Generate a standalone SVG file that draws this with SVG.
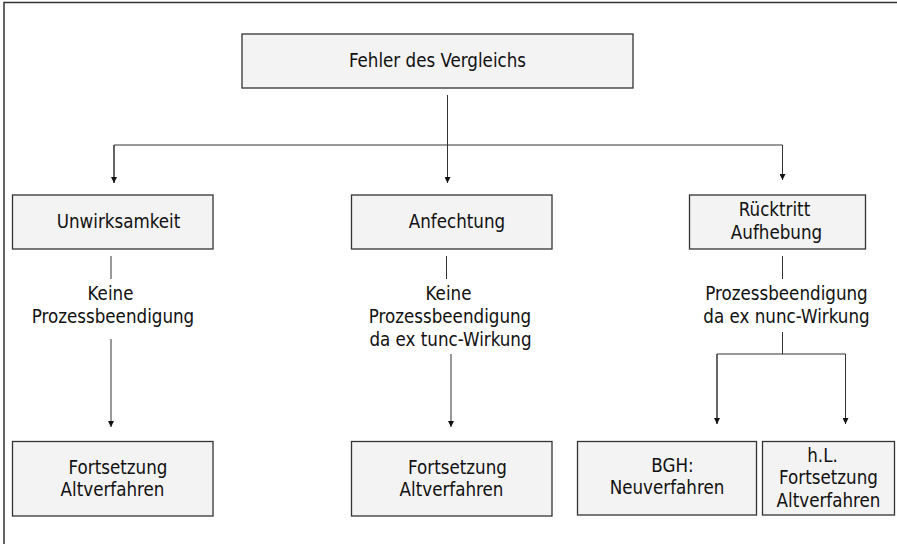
<svg xmlns="http://www.w3.org/2000/svg" width="897" height="544" viewBox="0 0 897 544">
<style>
  .box { fill: #f3f3f3; stroke: #333; stroke-width: 1.3; }
  .t { font-family: "DejaVu Sans Condensed", "DejaVu Sans", sans-serif; font-size: 18.6px; fill: #111; text-anchor: middle; }
  .ln { stroke: #333; stroke-width: 1; fill: none; }
  .frame { stroke: #333; stroke-width: 1.5; fill: none; }
</style>
<defs>
  <marker id="ah" viewBox="0 0 6 6" refX="6" refY="3" markerWidth="6" markerHeight="6" markerUnits="userSpaceOnUse" orient="auto">
    <path d="M0,0 L6,3 L0,6 z" fill="#111"/>
  </marker>
</defs>
<rect x="0" y="0" width="897" height="544" fill="#fff"/>
<path class="frame" d="M4,544 V2.5 H897"/>

<g id="connectors">
  <path class="ln" d="M447.5,95 V183" marker-end="url(#ah)"/>
  <path class="ln" d="M114,183 V145 H782.5 V180" marker-end="url(#ah)"/>
  <path class="ln" d="M114,145 V183" marker-end="url(#ah)"/>
  <path class="ln" d="M111,256 V279"/>
  <path class="ln" d="M111,339 V427" marker-end="url(#ah)"/>
  <path class="ln" d="M446.5,256 V279"/>
  <path class="ln" d="M451,354 V427" marker-end="url(#ah)"/>
  <path class="ln" d="M782.5,256 V279"/>
  <path class="ln" d="M782.5,332 V354"/>
  <path class="ln" d="M717,424 V354 H845.5 V424" marker-end="url(#ah)"/>
  <path class="ln" d="M717,354 V424" marker-end="url(#ah)"/>
  <g class="t">
    <text x="110.5" y="300">Keine</text>
    <text x="113" y="323">Prozessbeendigung</text>
    <text x="448.5" y="300">Keine</text>
    <text x="450" y="323">Prozessbeendigung</text>
    <text x="450.5" y="346">da ex tunc-Wirkung</text>
    <text x="786.5" y="300">Prozessbeendigung</text>
    <text x="786.5" y="323">da ex nunc-Wirkung</text>
  </g>
</g>

<g id="n-fehler">
  <rect class="box" x="242" y="34" width="391" height="54"/>
  <text class="t" x="437.5" y="67">Fehler des Vergleichs</text>
</g>
<g id="n-unwirksamkeit">
  <rect class="box" x="12.5" y="195" width="200.5" height="54"/>
  <text class="t" x="118.5" y="228">Unwirksamkeit</text>
</g>
<g id="n-anfechtung">
  <rect class="box" x="351.5" y="195" width="200.5" height="54"/>
  <text class="t" x="457" y="228">Anfechtung</text>
</g>
<g id="n-ruecktritt">
  <rect class="box" x="689.5" y="195" width="176" height="54"/>
  <text class="t" x="774.5" y="216">Rücktritt</text>
  <text class="t" x="776.5" y="239">Aufhebung</text>
</g>
<g id="n-fort1">
  <rect class="box" x="12.5" y="441.5" width="200.5" height="74.5"/>
  <text class="t" x="118" y="474">Fortsetzung</text>
  <text class="t" x="112.5" y="496">Altverfahren</text>
</g>
<g id="n-fort2">
  <rect class="box" x="351.5" y="441.5" width="200.5" height="74.5"/>
  <text class="t" x="457.5" y="474">Fortsetzung</text>
  <text class="t" x="451.5" y="496">Altverfahren</text>
</g>
<g id="n-bgh">
  <rect class="box" x="577.5" y="441.5" width="179" height="73.5"/>
  <text class="t" x="672.5" y="472">BGH:</text>
  <text class="t" x="667" y="494">Neuverfahren</text>
</g>
<g id="n-hl">
  <rect class="box" x="762.5" y="441.5" width="132" height="73.5"/>
  <text class="t" x="822.5" y="462">h.L.</text>
  <text class="t" x="828.5" y="484">Fortsetzung</text>
  <text class="t" x="828.5" y="507">Altverfahren</text>
</g>
</svg>
